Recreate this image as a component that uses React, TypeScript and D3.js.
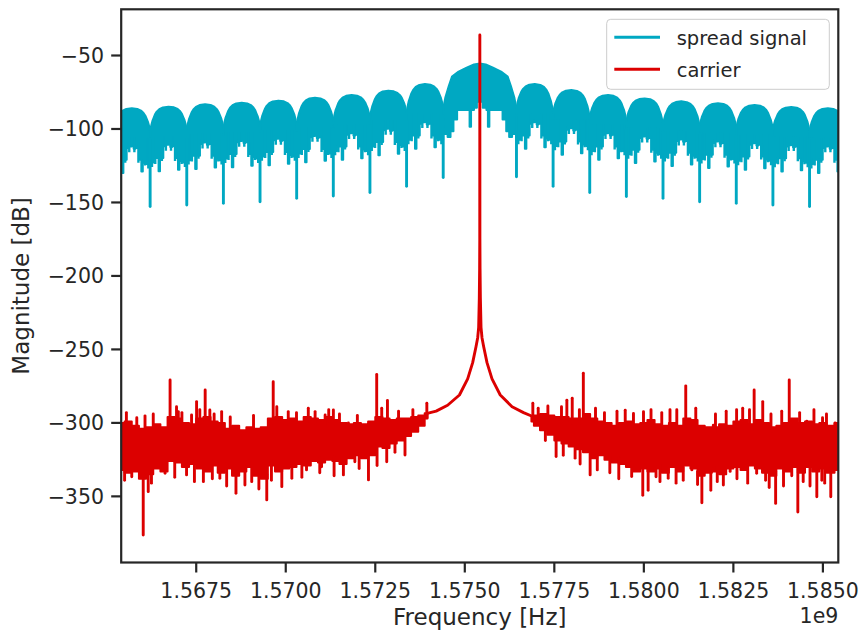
import React from "react";
import * as d3 from "d3";

const WIDTH = 864;
const HEIGHT = 637;
const PLOT = { left: 121.2, right: 838.3, top: 9.3, bottom: 562.5 };
const FONT = "'DejaVu Sans', sans-serif";
const INK = "#262626";
const CYAN = "#00a8c2";
const RED = "#dc0000";

// ---------- axes ----------
const xDomainMHz: [number, number] = [1565.405, 1585.43];
const yDomainDb: [number, number] = [-395.0, -18.56];
const xTicksMHz = [1567.5, 1570.0, 1572.5, 1575.0, 1577.5, 1580.0, 1582.5, 1585.0];
const xTickLabels = ["1.5675", "1.5700", "1.5725", "1.5750", "1.5775", "1.5800", "1.5825", "1.5850"];
const yTicksDb = [-350, -300, -250, -200, -150, -100, -50];
const yTickLabels = ["\u2212350", "\u2212300", "\u2212250", "\u2212200", "\u2212150", "\u2212100", "\u221250"];
const seriesNames = ["spread signal", "carrier"];

// ---------- spread signal ----------
const spreadNullMHz = [
  1565.19, 1566.213, 1567.236, 1568.259, 1569.282, 1570.305, 1571.328, 1572.351, 1573.374, 1574.397,
  1576.443, 1577.466, 1578.489, 1579.512, 1580.535, 1581.558, 1582.581, 1583.604, 1584.627, 1585.65,
];
const spreadNullTopDb = [
  -102.5, -101.8, -100.7, -99.6, -98.5, -97.5, -95.0, -92.7, -89.3, -86.0,
  -86.0, -89.3, -92.7, -95.0, -97.5, -98.5, -99.6, -100.7, -101.8, -102.5,
];
const spreadNullDipDb = [
  -154, -152.8, -151.7, -150.6, -149.5, -147.2, -145.6, -143.3, -139.0, -133.0,
  -132.5, -139.0, -143.3, -146.0, -147.2, -149.5, -150.6, -151.7, -152.8, -154,
];
const spreadLobePeakDb = [
  -85.9, -84.8, -83.2, -82.1, -80.7, -78.7, -76.9, -73.9, -69.4, -55.5,
  -69.4, -73.5, -76.9, -79.2, -81.2, -82.5, -83.7, -85.0, -85.9,
];
// top edge of a lobe: position in lobe (0..1) and share of valley->peak rise
const sideTopFrac = [0, 0.03, 0.06, 0.09, 0.13, 0.18, 0.25, 0.35, 0.5, 0.65, 0.75, 0.82, 0.87, 0.91, 0.94, 0.97, 1];
const sideTopShare = [0, 0.25, 0.42, 0.53, 0.68, 0.8, 0.9, 0.97, 1, 0.97, 0.9, 0.8, 0.68, 0.53, 0.42, 0.25, 0];
const mainTopFrac = [0, 0.03, 0.076, 0.12, 0.21, 0.32, 0.42, 0.5, 0.58, 0.68, 0.79, 0.88, 0.924, 0.97, 1];
const mainTopShare = [0, 0.25, 0.5, 0.71, 0.82, 0.91, 0.98, 1, 0.98, 0.91, 0.82, 0.71, 0.5, 0.25, 0];
// ragged lower edge: interval bounds and drop below lobe peak (dB)
const sideFloorFrac = [0, 0.1, 0.23, 0.27, 0.36, 0.4, 0.45, 0.5, 0.55, 0.6, 0.64, 0.71, 0.76, 0.8, 0.9, 1];
const sideFloorDrop = [38, 35, 44, 35, 27, 24.5, 26, 25, 27.5, 24.5, 27, 35, 43, 37, 38];
const mainFloorFrac = [0, 0.06, 0.1, 0.14, 0.19, 0.36, 0.38, 0.42, 0.46, 0.54, 0.59, 0.61, 0.63, 0.81, 0.86, 0.9, 0.94, 1];
const mainFloorDrop = [48, 50, 46, 38, 31.5, 43, 31.5, 30, 26, 30, 31.5, 43, 31.5, 38, 46, 50, 48];
// short stems hanging below each side lobe: position in lobe and drop below lobe peak
const sideStemFrac = [0.05, 0.14, 0.32, 0.43, 0.57, 0.68, 0.86, 0.95];
const sideStemDrop = [41, 39, 37, 30, 30, 37, 39, 41];

// ---------- carrier ----------
const carrierSkirtMHz = [
  1573.95, 1574.2, 1574.52, 1574.85, 1575.08, 1575.22, 1575.314, 1575.36, 1575.387, 1575.405, 1575.414, 1575.418,
  1575.42,
  1575.422, 1575.426, 1575.435, 1575.453, 1575.48, 1575.526, 1575.62, 1575.76, 1575.99, 1576.32, 1576.64, 1576.88,
];
const carrierSkirtDb = [
  -293.5, -292, -288, -281, -270, -259, -248, -242, -235, -215, -195, -175,
  -36,
  -175, -195, -215, -235, -242, -248, -259, -270, -281, -289, -293, -295.5,
];
const carrierBandMHz = [
  1565.4, 1565.6, 1565.8, 1566.0, 1566.2, 1566.4, 1566.6, 1566.8, 1567.0, 1567.2, 1567.4, 1567.6, 1567.8,
  1568.0, 1568.2, 1568.4, 1568.6, 1568.8, 1569.0, 1569.2, 1569.4, 1569.6, 1569.8, 1570.0, 1570.2, 1570.4,
  1570.6, 1570.8, 1571.0, 1571.2, 1571.4, 1571.6, 1571.8, 1572.0, 1572.2, 1572.4, 1572.6, 1572.8, 1573.0,
  1573.2, 1573.4, 1573.6, 1573.8, 1573.96,
  1576.86, 1577.0, 1577.2, 1577.4, 1577.6, 1577.8, 1578.0, 1578.2, 1578.4, 1578.6, 1578.8, 1579.0, 1579.2,
  1579.4, 1579.6, 1579.8, 1580.0, 1580.2, 1580.4, 1580.6, 1580.8, 1581.0, 1581.2, 1581.4, 1581.6, 1581.8,
  1582.0, 1582.2, 1582.4, 1582.6, 1582.8, 1583.0, 1583.2, 1583.4, 1583.6, 1583.8, 1584.0, 1584.2, 1584.4,
  1584.6, 1584.8, 1585.0, 1585.2, 1585.45,
];
const carrierBandHighDb = [
  -300, -299, -302, -304, -303, -301, -303, -296, -297, -300, -301, -297, -296,
  -299, -300, -304, -302, -305, -303, -304, -303, -297, -296, -298, -297, -299,
  -296, -297, -298, -296, -298, -300, -301, -300, -301, -299, -296, -297, -298,
  -297, -297, -296, -295, -293.5,
  -295.5, -295, -294, -295, -296, -296, -297, -297, -294, -297, -299, -300, -302,
  -300, -299, -301, -300, -298, -301, -302, -300, -302, -297, -298, -302, -303,
  -303, -301, -302, -299, -298, -301, -298, -300, -303, -302, -300, -297, -300,
  -299, -301, -300, -302, -300,
];
const carrierBandLowDb = [
  -332, -334, -333, -338, -335, -331, -333, -326, -327, -330, -328, -331, -333,
  -329, -334, -331, -336, -333, -330, -336, -338, -329, -333, -331, -330, -328,
  -329, -326, -327, -325, -326, -328, -324, -322, -324, -322, -316, -317, -314,
  -312, -309, -306, -302, -297,
  -299, -302, -305, -308, -312, -314, -316, -318, -320, -324, -322, -325, -327,
  -328, -330, -333, -331, -333, -331, -334, -330, -333, -329, -331, -336, -334,
  -333, -335, -331, -330, -332, -329, -331, -334, -336, -331, -333, -330, -334,
  -330, -333, -331, -334, -332,
];
const carrierSpikeMHz = [
  1565.50, 1565.55, 1565.70, 1565.84, 1566.02, 1566.07, 1566.16, 1566.25, 1566.30, 1566.63, 1566.77, 1566.90,
  1566.95, 1567.0, 1567.10, 1567.23, 1567.37, 1567.45, 1567.51, 1567.60, 1567.70, 1567.75, 1567.88, 1567.95,
  1568.0, 1568.16, 1568.21, 1568.35, 1568.45, 1568.61, 1568.86, 1569.05, 1569.10, 1569.25, 1569.47, 1569.60,
  1569.65, 1569.75, 1569.89, 1570.07, 1570.17, 1570.30, 1570.45, 1570.58, 1570.63, 1570.82, 1570.95, 1571.0,
  1571.1, 1571.2, 1571.33, 1571.35, 1571.5, 1571.61, 1571.75, 1571.93, 1572.0, 1572.05, 1572.31, 1572.54,
  1572.55, 1572.68, 1572.82, 1572.84, 1573.05, 1573.15, 1573.33, 1573.55, 1573.94,
  1576.90, 1577.05, 1577.25, 1577.32, 1577.55, 1577.70, 1577.75, 1577.85, 1578.0, 1578.08, 1578.20, 1578.22,
  1578.31, 1578.50, 1578.65, 1578.70, 1578.90, 1579.05, 1579.25, 1579.30, 1579.48, 1579.66, 1579.71, 1579.97,
  1579.99, 1580.12, 1580.20, 1580.34, 1580.45, 1580.50, 1580.68, 1580.73, 1580.90, 1580.92, 1581.10, 1581.17,
  1581.34, 1581.45, 1581.50, 1581.62, 1581.87, 1581.94, 1582.0, 1582.05, 1582.22, 1582.30, 1582.41, 1582.59,
  1582.60, 1582.76, 1582.90, 1582.95, 1583.08, 1583.15, 1583.32, 1583.40, 1583.50, 1583.55, 1583.68, 1583.85,
  1583.90, 1584.06, 1584.13, 1584.30, 1584.35, 1584.45, 1584.55, 1584.64, 1584.75, 1584.83, 1584.97, 1584.99,
  1585.05, 1585.10, 1585.22, 1585.34,
];
const carrierSpikeDb = [
  -339, -293, -336.6, -296.5, -376.3, -295.2, -346.8, -341, -294, -334.3, -270.8, -337,
  -289, -292.3, -293, -335.4, -294.6, -340, -285.5, -291, -340, -277.6, -291.2, -338,
  -294, -337.7, -292.3, -343, -296, -347.9, -342.3, -340, -295, -345, -352.4, -339,
  -272, -289, -343.4, -292.3, -337.7, -293, -337, -332, -290, -292.3, -334, -329.8,
  -294.6, -291, -291.2, -336, -294, -335.4, -300, -326.4, -295, -331, -338.8, -267,
  -329, -290, -326.4, -284.7, -320, -292, -321.8, -291, -286.6,
  -286.6, -290, -312, -288.5, -322.9, -289, -322, -284.6, -283.2, -324, -291, -328,
  -266.2, -335.4, -290, -332, -293, -334, -292, -338, -291.4, -336.5, -293.6, -349.2,
  -292.3, -345.8, -291, -336.6, -340, -293, -337.7, -291, -341, -291, -339, -274.8,
  -332, -290, -342, -354.4, -345.8, -301.5, -294, -340, -342.3, -292, -333, -291,
  -338, -290, -341, -291, -277.6, -334.3, -285.5, -339, -344, -294, -354.8, -292,
  -343, -270.8, -336, -360.6, -293, -340, -298.8, -343, -291, -350.3, -339, -296.5,
  -341, -294, -350.3, -300,
];

export default function App() {
  const x = d3.scaleLinear().domain(xDomainMHz).range([PLOT.left, PLOT.right]);
  const y = d3.scaleLinear().domain(yDomainDb).range([PLOT.bottom, PLOT.top]);
  const line = d3.line<[number, number]>();
  const mainIdx = d3.maxIndex(spreadLobePeakDb);

  const lobePaths = spreadLobePeakDb.map((peak, j) => {
    const fa = spreadNullMHz[j];
    const w = spreadNullMHz[j + 1] - fa;
    const isMain = j === mainIdx;
    const tf = isMain ? mainTopFrac : sideTopFrac;
    const ts = isMain ? mainTopShare : sideTopShare;
    const ff = isMain ? mainFloorFrac : sideFloorFrac;
    const fd = isMain ? mainFloorDrop : sideFloorDrop;
    const pts: [number, number][] = [];
    tf.forEach((fr, i) => {
      const valley = fr < 0.5 ? spreadNullTopDb[j] : spreadNullTopDb[j + 1];
      pts.push([x(fa + fr * w), y(valley + (peak - valley) * ts[i])]);
    });
    for (let i = fd.length - 1; i >= 0; i--) {
      const v = peak - fd[i];
      pts.push([x(fa + ff[i + 1] * w), y(v)]);
      pts.push([x(fa + ff[i] * w), y(v)]);
    }
    return line(pts) + "Z";
  });

  const stems: { f: number; top: number; bottom: number }[] = [];
  spreadLobePeakDb.forEach((peak, j) => {
    if (j === mainIdx) return;
    const fa = spreadNullMHz[j];
    const w = spreadNullMHz[j + 1] - fa;
    sideStemFrac.forEach((fr, i) => {
      stems.push({ f: fa + fr * w, top: peak - 20, bottom: peak - sideStemDrop[i] });
    });
  });

  const bandIdx = carrierBandMHz.map((_, i) => i);
  const leftIdx = bandIdx.filter((i) => carrierBandMHz[i] < 1575.42);
  const rightIdx = bandIdx.filter((i) => carrierBandMHz[i] > 1575.42);
  const area = d3
    .area<number>()
    .x((i) => x(carrierBandMHz[i]))
    .y0((i) => y(carrierBandLowDb[i]))
    .y1((i) => y(carrierBandHighDb[i]))
    .curve(d3.curveStep);
  const skirtPath = line(carrierSkirtMHz.map((f, i) => [x(f), y(carrierSkirtDb[i])] as [number, number]));
  const bis = d3.bisector((d: number) => d).center;

  const legendX = 606.7;
  const legendY = 19.3;

  return (
    <svg
      width={WIDTH}
      height={HEIGHT}
      style={{ position: "absolute", left: 0, top: 0, background: "#fff" }}
      fontFamily={FONT}
    >
      <defs>
        <clipPath id="plotClip">
          <rect x={PLOT.left} y={PLOT.top} width={PLOT.right - PLOT.left} height={PLOT.bottom - PLOT.top} />
        </clipPath>
      </defs>
      <rect x={0} y={0} width={WIDTH} height={HEIGHT} fill="#fff" />
      <g clipPath="url(#plotClip)">
        {/* spread signal */}
        {lobePaths.map((d, i) => (
          <path key={"lobe" + i} d={d} fill={CYAN} stroke={CYAN} strokeWidth={2} strokeLinejoin="round" />
        ))}
        {stems.map((s, i) => (
          <line
            key={"stem" + i}
            x1={x(s.f)}
            x2={x(s.f)}
            y1={y(s.top)}
            y2={y(s.bottom)}
            stroke={CYAN}
            strokeWidth={2.4}
          />
        ))}
        {spreadNullMHz.map((f, k) => (
          <line
            key={"dip" + k}
            x1={x(f)}
            x2={x(f)}
            y1={y(spreadNullTopDb[k] - 5)}
            y2={y(spreadNullDipDb[k])}
            stroke={CYAN}
            strokeWidth={2.9}
            strokeLinecap="round"
          />
        ))}
        {/* carrier */}
        <path d={area(leftIdx) || ""} fill={RED} stroke={RED} strokeWidth={2} strokeLinejoin="round" />
        <path d={area(rightIdx) || ""} fill={RED} stroke={RED} strokeWidth={2} strokeLinejoin="round" />
        {carrierSpikeMHz.map((f, i) => {
          const b = bis(carrierBandMHz, f);
          const v = carrierSpikeDb[i];
          const mid = (carrierBandHighDb[b] + carrierBandLowDb[b]) / 2;
          const base = v > mid ? carrierBandHighDb[b] - 3 : carrierBandLowDb[b] + 3;
          return (
            <line
              key={"sp" + i}
              x1={x(f)}
              x2={x(f)}
              y1={y(base)}
              y2={y(v)}
              stroke={RED}
              strokeWidth={2.9}
              strokeLinecap="round"
            />
          );
        })}
        <path d={skirtPath || ""} fill="none" stroke={RED} strokeWidth={2.9} strokeLinejoin="round" strokeLinecap="round" />
      </g>

      {/* spines */}
      <rect
        x={PLOT.left}
        y={PLOT.top}
        width={PLOT.right - PLOT.left}
        height={PLOT.bottom - PLOT.top}
        fill="none"
        stroke={INK}
        strokeWidth={2.2}
      />
      {/* x ticks */}
      {xTicksMHz.map((t, i) => (
        <g key={"xt" + i}>
          <line x1={x(t)} x2={x(t)} y1={PLOT.bottom} y2={PLOT.bottom + 10} stroke={INK} strokeWidth={2.2} />
          <text x={x(t)} y={598} textAnchor="middle" fontSize={20.5} fill={INK}>
            {xTickLabels[i]}
          </text>
        </g>
      ))}
      {/* y ticks */}
      {yTicksDb.map((t, i) => (
        <g key={"yt" + i}>
          <line x1={PLOT.left - 10} x2={PLOT.left} y1={y(t)} y2={y(t)} stroke={INK} strokeWidth={2.2} />
          <text x={104} y={y(t) + 7.5} textAnchor="end" fontSize={20.5} fill={INK}>
            {yTickLabels[i]}
          </text>
        </g>
      ))}
      <text x={(PLOT.left + PLOT.right) / 2} y={625} textAnchor="middle" fontSize={23} fill={INK}>
        Frequency [Hz]
      </text>
      <text x={PLOT.right} y={623} textAnchor="end" fontSize={20.5} fill={INK}>
        1e9
      </text>
      <text
        transform={`translate(29,${(PLOT.top + PLOT.bottom) / 2}) rotate(-90)`}
        textAnchor="middle"
        fontSize={23}
        fill={INK}
      >
        Magnitude [dB]
      </text>

      {/* legend */}
      <rect
        x={legendX}
        y={legendY}
        width={222.6}
        height={70}
        rx={4}
        fill="#fff"
        fillOpacity={0.8}
        stroke="#cccccc"
        strokeWidth={1}
      />
      {[CYAN, RED].map((c, i) => (
        <g key={"lg" + i}>
          <line x1={614.3} x2={660} y1={37.3 + i * 32} y2={37.3 + i * 32} stroke={c} strokeWidth={2.9} />
          <text x={676.7} y={44.5 + i * 32} fontSize={19.5} fill={INK}>
            {seriesNames[i]}
          </text>
        </g>
      ))}
    </svg>
  );
}
